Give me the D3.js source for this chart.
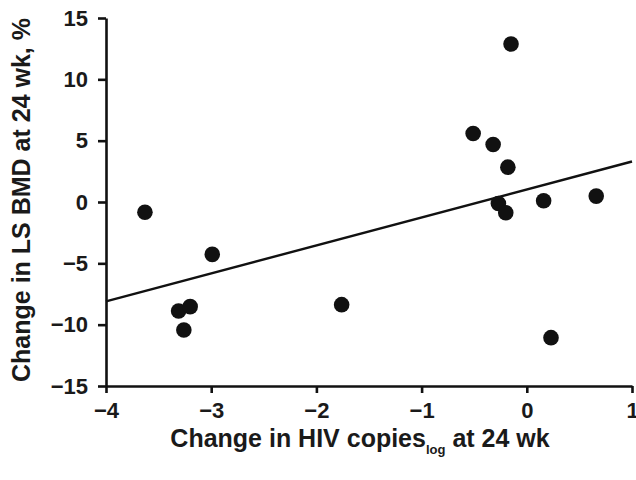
<!DOCTYPE html>
<html><head><meta charset="utf-8">
<script src="https://cdn.jsdelivr.net/npm/d3@7"></script>
<style>
body{margin:0;background:#fff;}
text{font-family:"Liberation Sans",Arial,sans-serif;font-weight:bold;fill:#1a1a1a;}
</style></head>
<body><svg id="c" width="636" height="480"></svg>
<script>
const xVals = [-3.63, -3.31, -3.20, -3.26, -2.99, -1.76, -0.51, -0.32, -0.15, -0.18, -0.27, -0.20, 0.16, 0.66, 0.23];
const yVals = [-0.83, -8.89, -8.53, -10.43, -4.27, -8.37, 5.58, 4.69, 12.88, 2.84, -0.12, -0.88, 0.10, 0.48, -11.06];
const trendX = [-4, 1];
const trendY = [-8.1, 3.3];
const xTicks = [-4, -3, -2, -1, 0, 1];
const yTicks = [-15, -10, -5, 0, 5, 10, 15];

(function () {
const svg = d3.select("#c");
const L = 106, R = 632, T = 18, B = 386;
const x = d3.scaleLinear().domain([-4, 1]).range([L, R]);
const y = d3.scaleLinear().domain([-15, 15]).range([B, T]);
const fmt = d => (d < 0 ? "\u2212" + Math.abs(d) : String(d));

const xa = svg.append("g").attr("transform", `translate(0,${B})`)
  .call(d3.axisBottom(x).tickValues(xTicks).tickSize(7).tickSizeOuter(0).tickFormat(fmt).tickPadding(9));
const ya = svg.append("g").attr("transform", `translate(${L},0)`)
  .call(d3.axisLeft(y).tickValues(yTicks).tickSize(8).tickSizeOuter(0).tickFormat(fmt).tickPadding(10));
[xa, ya].forEach(a => {
  a.selectAll("path,line").attr("stroke", "#111").attr("stroke-width", 2.6);
  a.selectAll("text").attr("font-size", 22).attr("font-family", "Liberation Sans, Arial, sans-serif").attr("font-weight", "bold").attr("fill", "#1a1a1a");
});

svg.append("line")
  .attr("x1", x(trendX[0])).attr("y1", y(trendY[0]))
  .attr("x2", x(trendX[1])).attr("y2", y(trendY[1]))
  .attr("stroke", "#111").attr("stroke-width", 2.4);

svg.append("g").selectAll("circle").data(xVals.map((v, i) => [v, yVals[i]])).join("circle")
  .attr("cx", d => x(d[0])).attr("cy", d => y(d[1])).attr("r", 7.8).attr("fill", "#111");

const xt = svg.append("text").attr("x", 360).attr("y", 447)
  .attr("text-anchor", "middle").attr("font-size", 25);
xt.append("tspan").text("Change in HIV copies");
xt.append("tspan").attr("font-size", 13).attr("dy", 7).text("log");
xt.append("tspan").attr("dy", -7).text(" at 24 wk");

svg.append("text").attr("transform", `translate(30,${200}) rotate(-90)`)
  .attr("text-anchor", "middle").attr("font-size", 25).text("Change in LS BMD at 24 wk, %");
})();
</script></body></html>
